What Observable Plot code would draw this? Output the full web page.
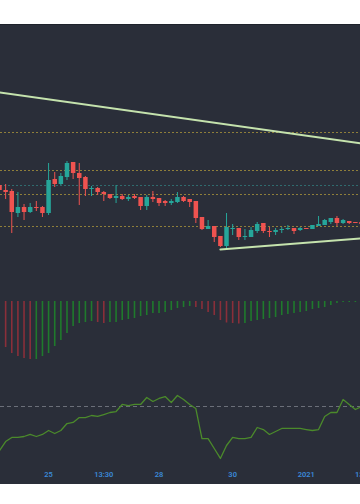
<!DOCTYPE html>
<html>
<head>
<meta charset="utf-8">
<script src="https://cdn.jsdelivr.net/npm/d3@7"></script>
<script src="https://cdn.jsdelivr.net/npm/@observablehq/plot@0.6"></script>
<style>
html, body { margin: 0; padding: 0; background: #ffffff; }
#top { height: 24px; background: #ffffff; }
#panel { width: 360px; height: 460px; background: #2a2e39; overflow: hidden; box-shadow: inset 0 1px 0 #1e222b; }
#panel svg { display: block; }
#bottom { height: 20px; background: #ffffff; }
</style>
</head>
<body>
<div id="top"></div>
<div id="panel"></div>
<div id="bottom"></div>
<script>
// ---- data (bar index 0..59) ----
const open  = [115,110,109,87,93,88,93,93,87,121,116,123,138,127,123,111,112,108,106,102,104,101,104,103,94,103,102,99,97,98,103,101,99,83,71,74,64,54,71,72,63,63,69,77,69,68,70,71,72,70,72,71,74,75,78,82,77,79,78,78];
const close = [110,108,88,93,88,93,92,87,120,116,124,137,127,122,111,112,108,106,102,104,101,103,102,94,103,101,97,97,99,103,99,98,82,71,74,63,54,73,72,63,64,70,76,69,68,70,71,72,69,72,71,75,76,80,82,77,80,77,77,76];
const high  = [116,116,111,108,96,97,99,94,137,128,127,139,138,137,124,114,113,109,106,115,106,105,106,103,105,109,102,100,101,108,104,101,99,83,80,74,64,87,76,72,71,73,78,77,73,72,73,75,72,73,72,75,84,81,82,84,81,79,78,78];
const low   = [109,101,67,83,80,87,89,83,85,113,115,120,121,95,104,104,105,99,101,97,100,99,101,90,90,98,94,94,95,97,98,93,77,70,71,58,53,52,65,60,60,63,67,67,63,65,67,70,66,69,71,71,74,75,76,74,76,76,77,76];
const macdHist = [null,-46,-52,-55,-57,-58,-58,-55,-52,-45,-39,-32,-25,-22,-21,-20,-21,-22,-21,-21,-19,-18,-17,-15,-14,-12,-12,-11,-9,-7,-6,-5,-6,-8,-11,-14,-19,-21.5,-22,-22.5,-22,-20,-19,-18,-17,-16,-14,-13,-12,-11,-10,-8,-7,-6,-4,-2,-1,-1,-1,-0.5];
const rsi = [33.3,40.8,44.2,44.2,45.0,46.7,45.0,46.7,50.0,47.5,50.0,55.8,56.7,60.8,60.8,62.5,61.7,63.3,65.0,65.8,71.7,70.8,71.7,71.7,77.5,74.2,76.7,78.3,73.3,79.2,75.8,71.7,68.3,43.3,43.3,35.0,26.7,37.5,44.2,43.3,43.3,44.2,52.5,50.8,46.7,49.2,51.7,51.7,51.7,51.7,50.8,50.0,50.8,61.7,65.0,65.0,75.8,71.7,67.5,70.0];
const priceLevels = [168, 130, 106, 74];
const tealLevels = [115];
const rsiLevels = [70];
const upperTrendIdx = [0, 59];
const upperTrendVal = [208, 157];
const lowerTrendIdx = [36, 59];
const lowerTrendVal = [51, 62];
const tickIdx = [8, 17, 26, 38, 50, 59.5];
const tickLabels = ["25", "13:30", "28", "30", "2021", "13:30"];

// ---- build tables ----
const candles = open.map((o, i) => ({i, open: o, close: close[i], high: high[i], low: low[i], up: close[i] >= o}));
const hist = macdHist.map((v, i) => ({i, v, up: i > 1 && v >= macdHist[i - 1]})).filter(d => d.v != null);
const rsiData = rsi.map((v, i) => ({i, v}));
const upper = upperTrendIdx.map((i, k) => ({i, v: upperTrendVal[k]}));
const lower = lowerTrendIdx.map((i, k) => ({i, v: lowerTrendVal[k]}));
const ticks = tickIdx.map((i, k) => ({i, label: tickLabels[k]}));

const UP = "#26a69a", DOWN = "#ef5350";
const xScale = {type: "linear", domain: [0, 59], range: [-1, 361], axis: null};
const common = {width: 360, marginTop: 0, marginRight: 0, marginLeft: 0, style: {background: "transparent", overflow: "visible", fontFamily: "Roboto, sans-serif"}};

const main = Plot.plot({
  ...common, height: 261, marginBottom: 0,
  x: xScale,
  y: {domain: [15, 276], axis: null},
  marks: [
    Plot.ruleY(priceLevels, {stroke: "#8f7f3a", strokeDasharray: "2,2", strokeWidth: 1}),
    Plot.ruleY(tealLevels, {stroke: "#2f6b6e", strokeDasharray: "2,2", strokeWidth: 1}),
    Plot.ruleX(candles, {x: "i", y1: "low", y2: "high", stroke: d => d.up ? UP : DOWN, strokeWidth: 1}),
    Plot.ruleX(candles, {x: "i", y1: "open", y2: "close", stroke: d => d.up ? UP : DOWN, strokeWidth: 4.5}),
    Plot.line(upper, {x: "i", y: "v", stroke: "#c5e3ad", strokeWidth: 2}),
    Plot.line(lower, {x: "i", y: "v", stroke: "#c5e3ad", strokeWidth: 2})
  ]
});

const macd = Plot.plot({
  ...common, height: 85, marginBottom: 0,
  x: xScale,
  y: {domain: [-69, 16], axis: null},
  marks: [
    Plot.ruleX(hist, {x: "i", y1: 0, y2: "v", stroke: d => d.up ? "#1f7a2c" : "#8a2f3a", strokeWidth: 1.6})
  ]
});

const rsiPlot = Plot.plot({
  ...common, height: 114, marginBottom: 18,
  x: xScale,
  y: {domain: [20, 100], axis: null},
  marks: [
    Plot.ruleY(rsiLevels, {stroke: "#6b6f79", strokeDasharray: "4,3", strokeWidth: 1}),
    Plot.line(rsiData, {x: "i", y: "v", stroke: "#4b8a2b", strokeWidth: 1.3}),
    Plot.text(ticks, {x: "i", text: "label", frameAnchor: "bottom", dy: 10, fill: "#3b8ad9", fontSize: 7.5, fontWeight: 600})
  ]
});

const panel = document.getElementById("panel");
panel.append(main, macd, rsiPlot);
</script>
</body>
</html>
